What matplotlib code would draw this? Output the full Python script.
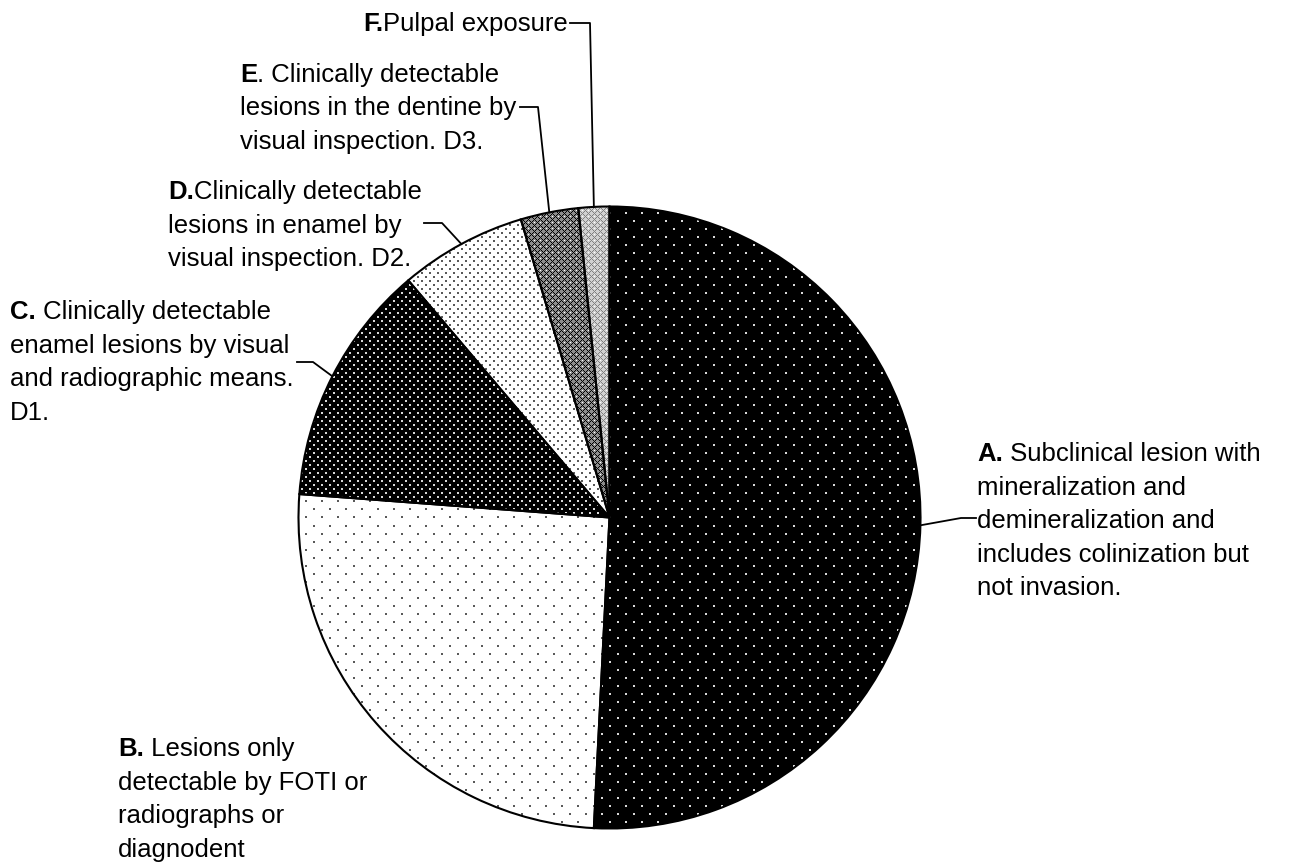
import matplotlib
matplotlib.use('Agg')
import matplotlib.pyplot as plt
import numpy as np

plt.rcParams['font.family'] = ['Liberation Sans', 'DejaVu Sans']

# data (percent of the pie)
labels = ['A', 'B', 'C', 'D', 'E', 'F']
shares = [50.8, 25.4, 12.6, 6.6, 3.0, 1.6]

bold_parts = ['A.', 'B.', 'C.', 'D.', 'E', 'F.']
text_lines = [
    [' Subclinical lesion with', 'mineralization and', 'demineralization and',
     'includes colinization but', 'not invasion.'],
    [' Lesions only', 'detectable by FOTI or', 'radiographs or', 'diagnodent'],
    [' Clinically detectable', 'enamel lesions by visual',
     'and radiographic means.', 'D1.'],
    ['Clinically detectable', 'lesions in enamel by', 'visual inspection. D2.'],
    ['. Clinically detectable', 'lesions in the dentine by',
     'visual inspection. D3.'],
    ['Pulpal exposure'],
]

W, H = 1290, 863
cx, cy, R = 609.5, 517.5, 311

# text block position (left x, centre of first line) and leader elbows
text_pos = {'A': (977, 452), 'B': (118, 747), 'C': (10, 310),
            'D': (168, 190), 'E': (240, 73), 'F': (363, 22)}
leaders = {'A': [(961, 518), (976, 518)],
           'C': [(313, 362), (297, 362)],
           'D': [(442, 223), (424, 223)],
           'E': [(538, 107), (520, 107)],
           'F': [(590, 23), (570, 23)]}
line_gap = 33.5
fs = 18.5


def texture(kind, n):
    yy, xx = np.mgrid[0:n, 0:n]

    def dots(s):
        h = s // 2
        return (((xx % s) < 2) & ((yy % s) < 2)) | \
               ((((xx + h) % s) < 2) & (((yy + h) % s) < 2))

    if kind == 'A':
        img = np.where(dots(16), 0.85, 0.0)
    elif kind == 'B':
        img = np.where(dots(16), 0.35, 1.0)
    elif kind == 'C':
        img = np.where(dots(8), 0.85, 0.0)
    elif kind == 'D':
        img = np.where(dots(8), 0.35, 1.0)
    elif kind == 'E':
        img = np.full((n, n), 0.55)
        diag = ((xx + yy) % 6 == 0) | ((xx - yy) % 6 == 0)
        img[diag] = 0.0
        img[(xx % 6 == 3) & (yy % 6 == 0)] = 1.0
    else:
        img = np.full((n, n), 0.82)
        diag = ((xx + yy) % 6 == 0) | ((xx - yy) % 6 == 0)
        img[diag] = 0.5
        img[(xx % 6 == 3) & (yy % 6 == 0)] = 1.0
    return img


fig = plt.figure(figsize=(W / 100, H / 100), dpi=100)
ax = fig.add_axes([0, 0, 1, 1])

# y axis inverted (pixel coords), so counterclock=True turns clockwise on screen
wedges, _ = ax.pie(shares, center=(cx, cy), radius=R, startangle=-90,
                   counterclock=True,
                   wedgeprops=dict(facecolor='none', edgecolor='black',
                                   linewidth=1.5, zorder=3))

n = int(2 * R) + 4
for lab, w in zip(labels, wedges):
    im = ax.imshow(texture(lab, n), cmap='gray', vmin=0, vmax=1,
                   interpolation='nearest',
                   extent=(cx - n / 2, cx + n / 2, cy + n / 2, cy - n / 2),
                   zorder=1)
    im.set_clip_path(w)

renderer = fig.canvas.get_renderer()
for lab, bold, lines, w in zip(labels, bold_parts, text_lines, wedges):
    x, y = text_pos[lab]
    for i, line in enumerate(lines):
        yb = y + 9 + i * line_gap
        if i == 0:
            tb = ax.text(x, yb, bold, fontsize=fs, fontweight='bold',
                         va='baseline', ha='left')
            bw = tb.get_window_extent(renderer=renderer).width
            ax.text(x + bw, yb, line, fontsize=fs, va='baseline', ha='left')
        else:
            ax.text(x, yb, line, fontsize=fs, va='baseline', ha='left')

    if lab in leaders:
        mid = np.deg2rad((w.theta1 + w.theta2) / 2)
        px = cx + R * np.cos(mid)
        py = cy + R * np.sin(mid)
        pts = [(px, py)] + leaders[lab]
        ax.plot([p[0] for p in pts], [p[1] for p in pts], color='black',
                lw=1.3, zorder=4)

ax.set_xlim(0, W)
ax.set_ylim(H, 0)
ax.set_aspect('auto')
ax.axis('off')

fig.savefig('out.png', dpi=100)
